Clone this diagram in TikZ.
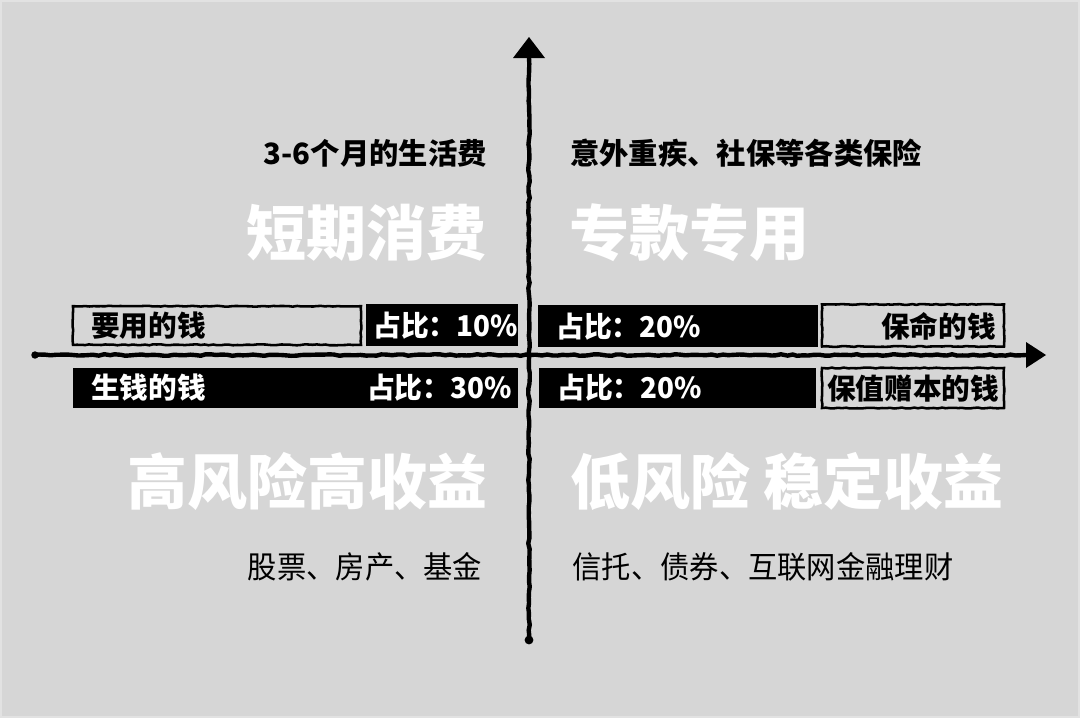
\documentclass[tikz,border=0pt]{standalone}
\usepackage{fontspec}
\setmainfont{Noto Sans CJK SC}
\usetikzlibrary{decorations.pathmorphing,calc}
\definecolor{bg}{HTML}{D6D6D6}
\definecolor{bgedge}{HTML}{E2E2E2}
\tikzset{
  rough/.style={decorate,decoration={random steps,segment length=4pt,amplitude=0.6pt}},
  axisline/.style={line width=3.3pt,black,line cap=round,rough},
  outlinebox/.style={draw=black,line width=1.9pt,fill=none,inner sep=0pt,minimum height=29pt,
    decorate,decoration={random steps,segment length=3pt,amplitude=0.35pt}},
  blackbox/.style={fill=black,inner sep=0pt,minimum height=30pt},
  bartext/.style={font=\fontsize{21.5}{22}\selectfont\bfseries,inner sep=0pt},
  midtext/.style={font=\fontsize{22}{23}\selectfont\bfseries,inner sep=0pt},
  bigtext/.style={font=\fontsize{45}{46}\selectfont\bfseries,text=white,inner sep=0pt},
  listtext/.style={font=\fontsize{23}{24}\selectfont,inner sep=0pt},
}
\begin{document}
\begin{tikzpicture}[x=0.75pt,y=-0.75pt]
\useasboundingbox (0,0) rectangle (1080,718);
\fill[bg] (0,0) rectangle (1080,718);
\draw[bgedge,line width=1.5pt] (1,1) rectangle (1079,717);

% axes
\coordinate (hl) at (35,355);
\coordinate (hr) at (1026,355);
\coordinate (htip) at (1046,355);
\coordinate (vb) at (529,640);
\coordinate (vt) at (529,58);
\coordinate (vtip) at (529,37);
\draw[axisline] (hl) -- (hr);
\draw[axisline] (vb) -- (vt);
\fill (hl) circle (2.8pt);
\fill (vb) circle (3.3pt);
\fill ($(hr)+(0,-13)$) -- (htip) -- ($(hr)+(0,13)$) -- cycle;
\fill ($(vt)+(-16,0)$) -- (vtip) -- ($(vt)+(16,0)$) -- cycle;

% top-left
\node[outlinebox,minimum width=216pt] (b1) at (217,325.5) {};
\node[bartext,anchor=west] (t1) at (91,326) {要用的钱};
\node[blackbox,minimum width=114pt,minimum height=31.5pt] (b2) at (442,325) {};
\node[bartext,text=white,anchor=west] (t2) at (373,326) {\scalebox{0.97}[1]{占比：10\%}};

% bottom-left
\node[blackbox,minimum width=334pt] (b3) at (295.5,388) {};
\node[bartext,text=white,anchor=west] (t3) at (91,388) {生钱的钱};
\node[bartext,text=white,anchor=east] (t4) at (512,388) {\scalebox{0.97}[1]{占比：30\%}};

% top-right
\node[blackbox,minimum width=210pt,minimum height=31.5pt] (b4) at (678,326) {};
\node[bartext,text=white,anchor=west] (t5) at (556,327) {\scalebox{0.97}[1]{占比：20\%}};
\node[outlinebox,minimum width=136.5pt,minimum height=31.5pt] (b5) at (913,325.5) {};
\node[bartext,anchor=east] (t6) at (996,326) {保命的钱};

% bottom-right
\node[blackbox,minimum width=208pt] (b6) at (677.5,387.5) {};
\node[bartext,text=white,anchor=west] (t7) at (557,388) {\scalebox{0.97}[1]{占比：20\%}};
\node[outlinebox,minimum width=136.5pt,minimum height=30pt] (b7) at (913,388) {};
\node[bartext,anchor=center] (t8) at (913,389) {保值赠本的钱};

% quadrant texts
\node[midtext,anchor=east] (q1a) at (487,153) {3-6个月的生活费};
\node[midtext,anchor=west] (q2a) at (570,153) {意外重疾、社保等各类保险};
\node[bigtext] (q1b) at (366,233) {短期消费};
\node[bigtext] (q2b) at (689,233) {专款专用};
\node[bigtext] (q3b) at (307,481) {高风险高收益};
\node[bigtext] (q4b) at (787,481) {低风险 稳定收益};
\node[listtext] (q3c) at (365,567) {\scalebox{0.955}[1]{股票、房产、基金}};
\node[listtext] (q4c) at (763,567) {\scalebox{0.955}[1]{信托、债券、互联网金融理财}};
\end{tikzpicture}
\end{document}
